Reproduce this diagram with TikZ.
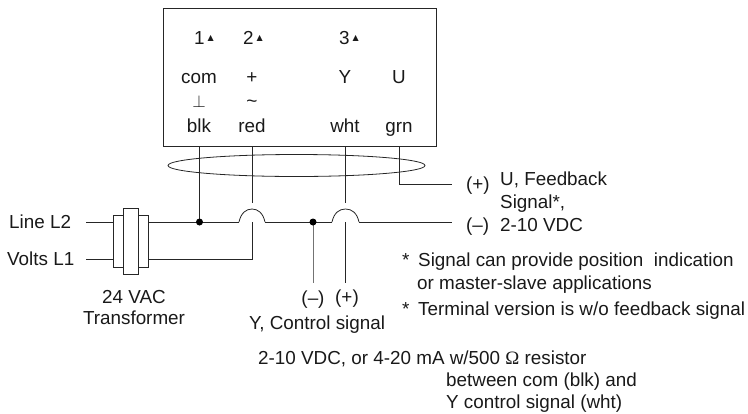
\documentclass[tikz,border=0pt]{standalone}
\usepackage{fontspec}
\setmainfont{Liberation Sans}
\newfontfamily\symfont{DejaVu Sans}
\newfontfamily\serfont{Liberation Serif}
\usetikzlibrary{calc,shapes.geometric}
\tikzset{
  x=1pt,y=-1pt,
  wire/.style={line width=0.8pt,draw=black!85},
  graywire/.style={line width=1pt,draw=black!55},
  txt/.style={inner sep=0pt,font=\fontsize{18.85}{22}\selectfont,text=black!90},
  lft/.style={txt,anchor=base west},
  ctr/.style={txt,anchor=base},
  jdot/.style={circle,fill=black,inner sep=0pt,minimum size=7pt},
  tbox/.style={draw=black!85,line width=0.9pt,fill=white},
}
\newcommand{\tri}{\raisebox{4pt}{\symfont\fontsize{8}{8}\selectfont ▲}}
\begin{document}
\begin{tikzpicture}
\useasboundingbox (0,0) rectangle (748,413);
% actuator box
\node[draw=black!85,line width=1pt,minimum width=273pt,minimum height=138pt,inner sep=0pt] (box) at (299.5,77) {};
% terminal labels
\node[ctr] (n1) at (204,44) {1\,\tri};
\node[ctr] (n2) at (253,44) {2\,\tri};
\node[ctr] (n3) at (349,44) {3\,\tri};
\node[ctr] (tcom) at (199,83) {com};
\node[ctr] (tplus) at (252,83) {+};
\node[ctr] (ty) at (345,83) {Y};
\node[ctr] (tu) at (399,83) {U};
\node[ctr] (tgnd) at (199,107) {\fontsize{19}{19}\selectfont$\perp$};
\node[ctr] (tac) at (252,107) {\fontsize{19}{19}\selectfont\textasciitilde};
\node[ctr] (cblk) at (199,132) {blk};
\node[ctr] (cred) at (252,132) {red};
\node[ctr] (cwht) at (345,132) {wht};
\node[ctr] (cgrn) at (399,132) {grn};
% named points
\coordinate (blkT) at (199.5,146);
\coordinate (redT) at (252,146);
\coordinate (whtT) at (345,146);
\coordinate (grnT) at (399,146);
\coordinate (L2) at (86,222);
\coordinate (L1) at (86,259.5);
\coordinate (dotA) at (199.5,222);
\coordinate (dotB) at (313,222);
\coordinate (hopAl) at (239,222);
\coordinate (hopAr) at (265,222);
\coordinate (hopBl) at (332,222);
\coordinate (hopBr) at (359,222);
\coordinate (redEnd) at (252,203);
\coordinate (redLow) at (252,222);
\coordinate (redCor) at (252,259.5);
\coordinate (whtEnd) at (345,203);
\coordinate (whtLow) at (345,222);
\coordinate (whtBot) at (345,283);
\coordinate (dotBBot) at (313,283);
\coordinate (lineEnd) at (452,222);
\coordinate (grnCor) at (399,184);
\coordinate (grnEnd) at (452,184);
% wires
\draw[wire] (L2) -- (hopAl);
\draw[wire] (hopAl) .. controls (241,213) and (246,209) .. (252,209) .. controls (258,209) and (263,213) .. (hopAr);
\draw[wire] (hopAr) -- (hopBl);
\draw[wire] (hopBl) .. controls (334,213) and (339,209) .. (345.5,209) .. controls (352,209) and (357,213) .. (hopBr);
\draw[wire] (hopBr) -- (lineEnd);
\draw[wire] (L1) -- (redCor) -- (redLow);
\draw[wire] (blkT) -- (dotA);
\draw[wire] (redT) -- (redEnd);
\draw[wire] (whtT) -- (whtEnd);
\draw[wire] (whtLow) -- (whtBot);
\draw[graywire] (dotB) -- (dotBBot);
\draw[wire] (grnT) -- (grnCor) -- (grnEnd);
\node[jdot] (ja) at (dotA) {};
\node[jdot] (jb) at (dotB) {};
% bundle ellipse
\node[draw=black!85,line width=0.8pt,ellipse,minimum width=257pt,minimum height=22pt,inner sep=0pt] (bundle) at (296.5,165.5) {};
% transformer
\node[tbox,minimum width=35pt,minimum height=52pt,inner sep=0pt] (xfo) at (130.5,241) {};
\node[tbox,minimum width=15pt,minimum height=66pt,inner sep=0pt] (xfi) at (130.5,241) {};
% labels
\node[lft] (ll2) at (9,228) {Line L2};
\node[lft] (ll1) at (7,265) {Volts L1};
\node[ctr] (x1) at (134,303) {24 VAC};
\node[ctr] (x2) at (134,324) {Transformer};
\node[ctr] (pm) at (313,304) {(–)};
\node[ctr] (pp) at (347,303) {(+)};
\node[lft] (yc) at (249,329) {Y, Control signal};
\node[lft] (fbp) at (466,190) {(+)};
\node[lft] (fb1) at (500,185) {U, Feedback};
\node[lft] (fb2) at (500,208) {Signal*,};
\node[lft] (fbm) at (466,231) {(–)};
\node[lft] (fb3) at (500,231) {2-10 VDC};
\node[lft] (a1) at (402,266) {*};
\node[lft] (s1) at (418,266) {Signal can provide position\ \ indication};
\node[lft] (s2) at (417,289) {or master-slave applications};
\node[lft] (a2) at (402,315) {*};
\node[lft] (s3) at (418,315) {Terminal version is w/o feedback signal};
\node[lft] (r1) at (258,364) {2-10 VDC, or 4-20 mA w/500 {\serfont Ω} resistor};
\node[lft] (r2) at (446,386) {between com (blk) and};
\node[lft] (r3) at (446,408) {Y control signal (wht)};
\end{tikzpicture}
\end{document}
